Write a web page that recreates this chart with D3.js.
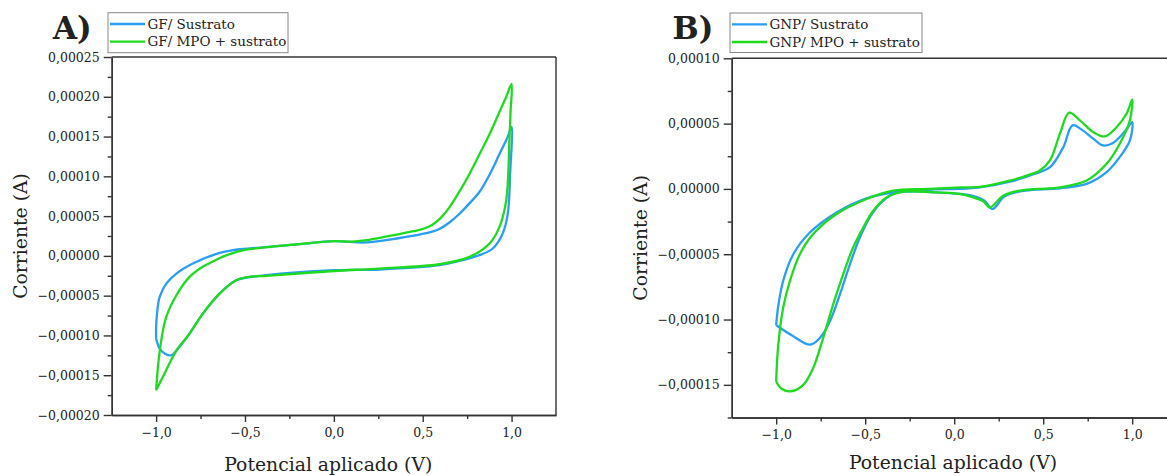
<!DOCTYPE html>
<html>
<head>
<meta charset="utf-8">
<script src="https://cdn.jsdelivr.net/npm/d3@7"></script>
<style>
  html, body { margin: 0; padding: 0; background: #fff; }
  svg { display: block; }
  text { font-family: "DejaVu Serif", "Liberation Serif", serif; fill: #222; }
</style>
</head>
<body>
<svg id="chart" width="1167" height="476"></svg>
<script>
// ---------------- DATA ----------------
const potencialTicks = [-1.0, -0.5, 0.0, 0.5, 1.0];
const potencialMinor = [-0.75, -0.25, 0.25, 0.75];
const corrienteTicksA = [-0.0002, -0.00015, -0.0001, -0.00005, 0, 0.00005, 0.0001, 0.00015, 0.0002, 0.00025];
const corrienteTicksB = [-0.00015, -0.0001, -0.00005, 0, 0.00005, 0.0001];

const legendA = ["GF/ Sustrato", "GF/ MPO + sustrato"];
const legendB = ["GNP/ Sustrato", "GNP/ MPO + sustrato"];
const panelLabels = ["A)", "B)"];
const xTitle = "Potencial aplicado (V)";
const yTitle = "Corriente (A)";

// Panel A — GF/ Sustrato (closed voltammetric loop)
const gfSustratoV = [-1.0, -1.0, -0.995, -0.98, -0.943, -0.886, -0.793, -0.643, -0.568, -0.474, -0.193, 0.0, 0.182, 0.37, 0.45, 0.52, 0.59, 0.65, 0.707, 0.763, 0.82, 0.876, 0.93, 0.979, 1.0,
  0.992, 0.979, 0.95, 0.894, 0.82, 0.707, 0.594, 0.257, 0.0, -0.38, -0.549, -0.643, -0.737, -0.812, -0.886, -0.915, -0.95, -0.98, -1.0];
const gfSustratoI = [-0.000104, -0.000089, -0.0000725, -0.0000516, -0.0000348, -0.0000222, -0.0000096, 0.0000038, 0.0000072, 0.0000093, 0.0000147, 0.0000185, 0.0000169, 0.0000225, 0.0000255, 0.0000285, 0.0000335, 0.000042, 0.000053, 0.000066, 0.0000806, 0.000102, 0.000127, 0.00015, 0.000162,
  0.000104, 0.0000534, 0.0000282, 0.0000093, 0.0000009, -0.0000063, -0.0000117, -0.0000171, -0.000018, -0.0000243, -0.0000306, -0.0000474, -0.0000725, -0.0000977, -0.000119, -0.000125, -0.000123, -0.0001166, -0.000104];

// Panel A — GF/ MPO + sustrato
const gfMpoV = [-1.0, -0.99, -0.971, -0.943, -0.886, -0.812, -0.74, -0.70, -0.65, -0.59, -0.5, -0.193, 0.0, 0.1, 0.182, 0.3, 0.37, 0.45, 0.5, 0.55, 0.6, 0.65, 0.707, 0.763, 0.82, 0.876, 0.93, 0.97, 1.0,
  0.994, 0.988, 0.97, 0.932, 0.876, 0.763, 0.594, 0.257, 0.0, -0.38, -0.474, -0.549, -0.643, -0.737, -0.812, -0.886, -0.962, -1.0];
const gfMpoI = [-0.000169, -0.00014, -0.000106, -0.0000768, -0.0000495, -0.0000264, -0.000014, -0.0000092, -0.0000035, 0.000002, 0.0000075, 0.0000147, 0.0000185, 0.000018, 0.0000198, 0.0000245, 0.0000275, 0.000031, 0.0000338, 0.0000385, 0.0000475, 0.000061, 0.000081, 0.000103, 0.000128, 0.000153, 0.00018, 0.0002, 0.000216,
  0.00018, 0.000146, 0.00007, 0.0000365, 0.0000156, -0.0000013, -0.0000105, -0.0000159, -0.000019, -0.000025, -0.0000264, -0.0000306, -0.0000474, -0.0000725, -0.0000977, -0.000119, -0.000152, -0.000169];

// Panel B — GNP/ Sustrato
const gnpSustratoV = [-1.0, -0.99, -0.961, -0.904, -0.811, -0.661, -0.5, -0.343, -0.15, 0.03, 0.144, 0.313, 0.45, 0.538, 0.613, 0.665, 0.72, 0.781, 0.837, 0.89, 0.93, 0.97, 1.0,
  0.987, 0.93, 0.856, 0.744, 0.594, 0.4, 0.313, 0.275, 0.215, 0.17, 0.107, 0.03, -0.1, -0.25, -0.343, -0.418, -0.474, -0.53, -0.586, -0.642, -0.698, -0.754, -0.81, -0.904, -1.0];
const gnpSustratoI = [-0.0001044, -0.000091, -0.0000705, -0.00005, -0.0000334, -0.000018, -0.0000075, -0.0000026, -0.0000005, 0.0, 0.0000012, 0.0000055, 0.0000115, 0.0000166, 0.000032, 0.0000487, 0.000045, 0.0000385, 0.0000333, 0.000035, 0.0000397, 0.000046, 0.0000512,
  0.0000371, 0.0000243, 0.0000128, 0.0000038, 0.0000005, -0.0000013, -0.0000038, -0.0000065, -0.0000154, -0.000009, -0.0000055, -0.0000038, -0.0000026, -0.000002, -0.0000038, -0.0000115, -0.0000218, -0.0000372, -0.0000577, -0.0000808, -0.0001013, -0.000114, -0.0001192, -0.0001128, -0.0001044];

// Panel B — GNP/ MPO + sustrato
const gnpMpoV = [-1.0, -0.99, -0.961, -0.923, -0.867, -0.792, -0.661, -0.492, -0.343, -0.15, 0.03, 0.144, 0.313, 0.407, 0.481, 0.538, 0.594, 0.646, 0.706, 0.781, 0.847, 0.913, 0.969, 1.0,
  0.987, 0.93, 0.856, 0.744, 0.594, 0.369, 0.275, 0.2, 0.163, 0.107, 0.03, -0.1, -0.25, -0.305, -0.38, -0.455, -0.511, -0.568, -0.624, -0.68, -0.736, -0.792, -0.848, -0.92, -0.97, -1.0];
const gnpMpoI = [-0.0001474, -0.000122, -0.000091, -0.0000705, -0.00005, -0.0000346, -0.0000192, -0.0000077, -0.0000013, 0.0, 0.0000012, 0.0000015, 0.0000064, 0.0000102, 0.0000141, 0.0000218, 0.0000423, 0.0000584, 0.0000525, 0.0000435, 0.0000402, 0.0000474, 0.0000577, 0.0000684,
  0.0000525, 0.0000346, 0.0000192, 0.0000064, 0.0000012, -0.0000013, -0.0000052, -0.0000141, -0.0000095, -0.0000065, -0.0000038, -0.0000026, -0.0000018, -0.0000026, -0.0000065, -0.0000167, -0.0000295, -0.0000449, -0.0000654, -0.0000884, -0.000114, -0.000137, -0.00015, -0.000155, -0.000153, -0.0001474];

const colorSustrato = "#2a9df4";
const colorMpo = "#1fdb1f";

// ---------------- DRAW ----------------
const svg = d3.select("#chart");
const fmtX = v => d3.format(".1f")(v).replace(".", ",").replace("-", "\u2013");
const fmtY = v => d3.format(".5f")(Math.abs(v) < 1e-12 ? 0 : v).replace(".", ",").replace("-", "\u2013");

const panels = [
  { left: 111.7, right: 556, top: 57, bottom: 415, yDomain: [-0.0002, 0.00025], yTicks: corrienteTicksA,
    series: [[gfSustratoV, gfSustratoI, colorSustrato], [gfMpoV, gfMpoI, colorMpo]],
    legend: legendA, legendBox: [108, 12.7, 180, 40], label: panelLabels[0], labelX: 53,
    yTitleX: 26.5, xTitleY: 471, xTitleC: 328.3 },
  { left: 731.7, right: 731.7 + 445, top: 58.3, bottom: 417.5, yDomain: [-0.000175, 0.0001], yTicks: corrienteTicksB,
    series: [[gnpSustratoV, gnpSustratoI, colorSustrato], [gnpMpoV, gnpMpoI, colorMpo]],
    legend: legendB, legendBox: [730, 13, 192, 39.5], label: panelLabels[1], labelX: 672.5,
    yTitleX: 646.5, xTitleY: 468.5, xTitleC: 953 }
];

panels.forEach(p => {
  const x = d3.scaleLinear().domain([-1.25, 1.25]).range([p.left, p.right]);
  const y = d3.scaleLinear().domain(p.yDomain).range([p.bottom, p.top]);
  const g = svg.append("g");

  // minor y ticks at midpoints
  const yMinor = [];
  for (let i = 0; i < p.yTicks.length - 1; i++) yMinor.push((p.yTicks[i] + p.yTicks[i + 1]) / 2);
  if (p.yDomain[0] < p.yTicks[0] - 1e-9) yMinor.push(p.yTicks[0] - (p.yTicks[1] - p.yTicks[0]) / 2);

  // curves
  const line = d3.line().curve(d3.curveCatmullRom.alpha(0.5)).x(d => x(d[0])).y(d => y(d[1]));
  p.series.forEach(([vs, is, col]) => {
    const pts = vs.map((v, i) => [v, is[i]]);
    g.append("path").attr("d", line(pts)).attr("fill", "none")
      .attr("stroke", col).attr("stroke-width", 2.3).attr("stroke-linejoin", "round");
  });

  // axes
  const axY = d3.axisLeft(y).tickValues(p.yTicks).tickFormat(fmtY).tickSize(8).tickSizeOuter(0).tickPadding(4);
  const axYm = d3.axisLeft(y).tickValues(yMinor).tickFormat("").tickSize(4).tickSizeOuter(0);
  const axX = d3.axisBottom(x).tickValues(potencialTicks).tickFormat(fmtX).tickSize(7).tickSizeOuter(0).tickPadding(6);
  const axXm = d3.axisBottom(x).tickValues(potencialMinor).tickFormat("").tickSize(4).tickSizeOuter(0);

  [g.append("g").attr("transform", `translate(${p.left},0)`).call(axYm),
   g.append("g").attr("transform", `translate(${p.left},0)`).call(axY),
   g.append("g").attr("transform", `translate(0,${p.bottom})`).call(axXm),
   g.append("g").attr("transform", `translate(0,${p.bottom})`).call(axX)].forEach(a => {
    a.selectAll("path, line").attr("stroke", "#333").attr("stroke-width", 1.4);
    a.selectAll("text").attr("font-family", "DejaVu Serif").attr("font-size", 12.5).attr("fill", "#333");
  });

  // box top & right
  g.append("line").attr("x1", p.left).attr("x2", p.right).attr("y1", p.top).attr("y2", p.top)
    .attr("stroke", "#333").attr("stroke-width", 1.4);
  g.append("line").attr("x1", p.right).attr("x2", p.right).attr("y1", p.top).attr("y2", p.bottom)
    .attr("stroke", "#333").attr("stroke-width", 1.4);

  // titles
  g.append("text").attr("x", p.xTitleC).attr("y", p.xTitleY)
    .attr("text-anchor", "middle").attr("font-size", 18.8).attr("fill", "#111").text(xTitle);
  g.append("text").attr("transform", `translate(${p.yTitleX},${(p.top + p.bottom) / 2}) rotate(-90)`)
    .attr("text-anchor", "middle").attr("font-size", 18.8).attr("fill", "#111").text(yTitle);

  // panel label
  g.append("text").attr("x", p.labelX).attr("y", 39).attr("font-family", "Liberation Serif")
    .attr("font-weight", "bold").attr("font-size", 31).attr("fill", "#000").text(p.label);

  // legend
  const [lx, ly, lw, lh] = p.legendBox;
  g.append("rect").attr("x", lx).attr("y", ly).attr("width", lw).attr("height", lh)
    .attr("fill", "#fff").attr("stroke", "#888").attr("stroke-width", 1);
  p.series.forEach(([, , col], i) => {
    const yy = ly + 11.3 + i * 17.7;
    g.append("line").attr("x1", lx + 2).attr("x2", lx + 37).attr("y1", yy).attr("y2", yy)
      .attr("stroke", col).attr("stroke-width", 2.3);
    g.append("text").attr("x", lx + 39.5).attr("y", yy + 4.7).attr("font-size", 13.5).attr("fill", "#111").text(p.legend[i]);
  });
});
</script>
</body>
</html>
